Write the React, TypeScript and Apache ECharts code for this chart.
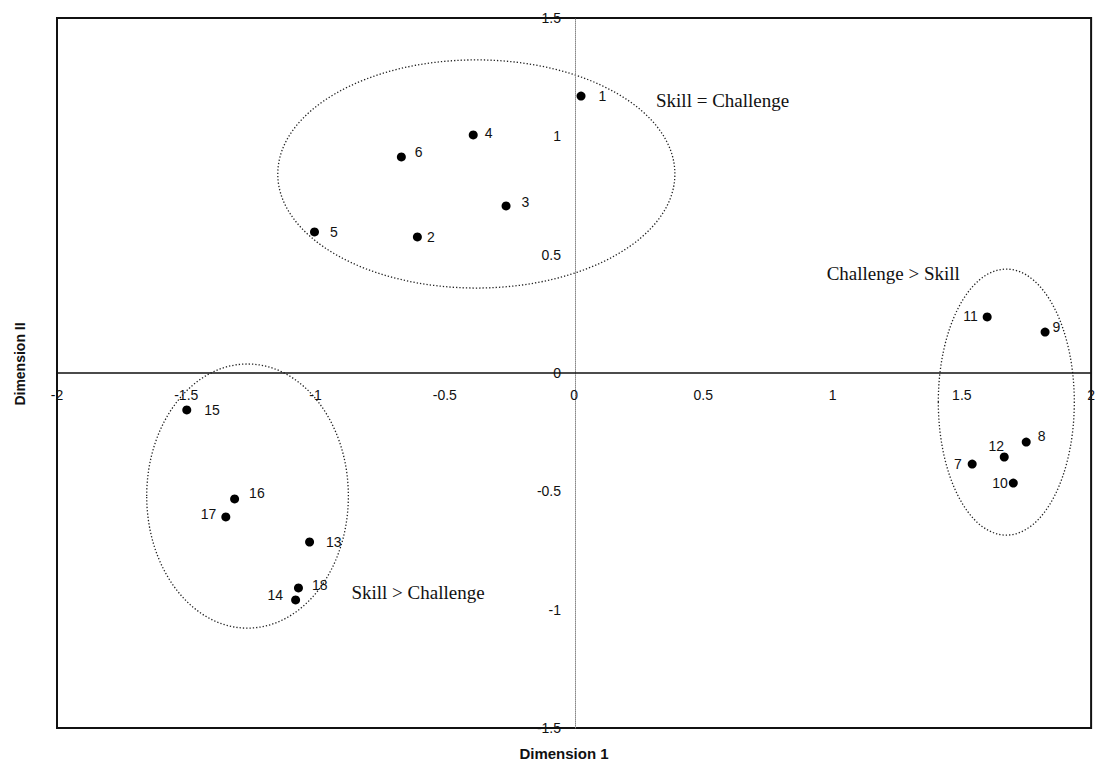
import React, { useEffect, useRef } from "react";
import * as echarts from "echarts";

const pointNames = ["1", "2", "3", "4", "5", "6", "7", "8", "9", "10", "11", "12", "13", "14", "15", "16", "17", "18"];
const dim1 = [0.027, -0.606, -0.263, -0.39, -1.004, -0.668, 1.54, 1.749, 1.822, 1.699, 1.598, 1.664, -1.023, -1.077, -1.498, -1.313, -1.347, -1.066];
const dim2 = [1.17, 0.575, 0.706, 1.006, 0.596, 0.913, -0.385, -0.292, 0.173, -0.465, 0.237, -0.355, -0.714, -0.959, -0.156, -0.532, -0.608, -0.908];

const xTicks = { min: -2, max: 2, interval: 0.5 };
const yTicks = { min: -1.5, max: 1.5, interval: 0.5 };

// cluster regions (centre x, centre y, radius x, radius y) in data units
const clusterNames = ["Skill = Challenge", "Challenge > Skill", "Skill > Challenge"];
const clusterCx = [-0.378, 1.672, -1.263];
const clusterCy = [0.841, -0.123, -0.52];
const clusterRx = [0.768, 0.263, 0.39];
const clusterRy = [0.482, 0.562, 0.558];
// annotation anchors (left edge, middle) in data units
const noteX = [0.317, 0.977, -0.861];
const noteY = [1.153, 0.4225, -0.929];

// label placement per point: [position, distance, dx, dy]
const labelPlacement: Record<string, [string, number, number, number]> = {
  "1": ["right", 13, 0, 0],
  "2": ["right", 5, 0, 0],
  "3": ["right", 11, 0, -4],
  "4": ["right", 7, 0, -2],
  "5": ["right", 11, 0, 0],
  "6": ["right", 9, 0, -5],
  "7": ["left", 6, 0, 0],
  "8": ["right", 7, 0, -6],
  "9": ["right", 3, 0, -5],
  "10": ["left", 1, 0, 0],
  "11": ["left", 5, 0, -1],
  "12": ["top", 0, -8, 0],
  "13": ["right", 12, 0, 0],
  "14": ["left", 8, 0, -5],
  "15": ["right", 13, 0, 0],
  "16": ["right", 10, 0, -6],
  "17": ["left", 5, 0, -3],
  "18": ["right", 9, 0, -3],
};

const GRID = { left: 57, top: 18, width: 1036, height: 710 };

export default function App() {
  const ref = useRef<HTMLDivElement>(null);
  useEffect(() => {
    if (!ref.current) return;
    const chart = echarts.init(ref.current, null, { renderer: "svg" });
    const data = pointNames.map((n, i) => {
      const p = labelPlacement[n];
      return {
        name: n,
        value: [dim1[i], dim2[i]],
        label: { position: p[0], distance: p[1], offset: [p[2], p[3]] },
      };
    });
    // axes sit on the zero lines: offset from the grid edges in pixels
    const zeroFromBottom = (GRID.height * (0 - yTicks.min)) / (yTicks.max - yTicks.min);
    const zeroFromLeft = (GRID.width * (0 - xTicks.min)) / (xTicks.max - xTicks.min);
    chart.setOption({
      animation: false,
      backgroundColor: "#fff",
      grid: {
        ...GRID,
        show: true,
        borderColor: "#111",
        borderWidth: 2,
        backgroundColor: "transparent",
      },
      xAxis: {
        type: "value",
        position: "bottom",
        offset: -zeroFromBottom,
        min: xTicks.min,
        max: xTicks.max,
        interval: xTicks.interval,
        axisLine: { onZero: false, lineStyle: { color: "#111", width: 1.5 } },
        axisTick: { show: false },
        splitLine: { show: false },
        axisLabel: {
          margin: 15,
          color: "#111",
          fontFamily: "Liberation Sans, Arial, sans-serif",
          fontSize: 14,
          showMinLabel: true,
          showMaxLabel: true,
        },
      },
      yAxis: {
        type: "value",
        position: "left",
        offset: -zeroFromLeft,
        min: yTicks.min,
        max: yTicks.max,
        interval: yTicks.interval,
        axisLine: { onZero: false, lineStyle: { color: "#888", width: 1, type: "dotted" } },
        axisTick: { show: false },
        splitLine: { show: false },
        axisLabel: {
          margin: 14,
          color: "#111",
          fontFamily: "Liberation Sans, Arial, sans-serif",
          fontSize: 14,
          showMinLabel: true,
          showMaxLabel: true,
        },
      },
      series: [
        {
          type: "scatter",
          symbol: "circle",
          symbolSize: 9,
          itemStyle: { color: "#000", opacity: 1 },
          data,
          label: {
            show: true,
            formatter: "{b}",
            color: "#111",
            fontFamily: "Liberation Sans, Arial, sans-serif",
            fontSize: 14,
          },
        },
      ],
    });

    const px = (x: number, y: number) => chart.convertToPixel({ gridIndex: 0 }, [x, y]) as number[];
    const graphics: any[] = [];
    clusterNames.forEach((name, i) => {
      const c = px(clusterCx[i], clusterCy[i]);
      const e = px(clusterCx[i] + clusterRx[i], clusterCy[i] + clusterRy[i]);
      graphics.push({
        type: "ellipse",
        silent: true,
        shape: { cx: c[0], cy: c[1], rx: Math.abs(e[0] - c[0]), ry: Math.abs(c[1] - e[1]) },
        style: { fill: "none", stroke: "#222", lineWidth: 1.3, lineDash: [1.3, 2] },
      });
      const t = px(noteX[i], noteY[i]);
      graphics.push({
        type: "text",
        x: t[0],
        y: t[1],
        style: {
          text: name,
          fill: "#111",
          font: "19px 'Liberation Serif', 'Times New Roman', serif",
          textAlign: "left",
          textVerticalAlign: "middle",
        },
      });
    });
    graphics.push({
      type: "text",
      x: 564,
      y: 753,
      style: {
        text: "Dimension 1",
        fill: "#111",
        font: "bold 15px 'Liberation Sans', Arial, sans-serif",
        textAlign: "center",
        textVerticalAlign: "middle",
      },
    });
    graphics.push({
      type: "text",
      x: 20,
      y: 364,
      rotation: Math.PI / 2,
      style: {
        text: "Dimension II",
        fill: "#111",
        font: "bold 14px 'Liberation Sans', Arial, sans-serif",
        textAlign: "center",
        textVerticalAlign: "middle",
      },
    });
    chart.setOption({ graphic: graphics });
    return () => chart.dispose();
  }, []);
  return <div ref={ref} style={{ position: "absolute", left: 0, top: 0, width: 1098, height: 767 }} />;
}
